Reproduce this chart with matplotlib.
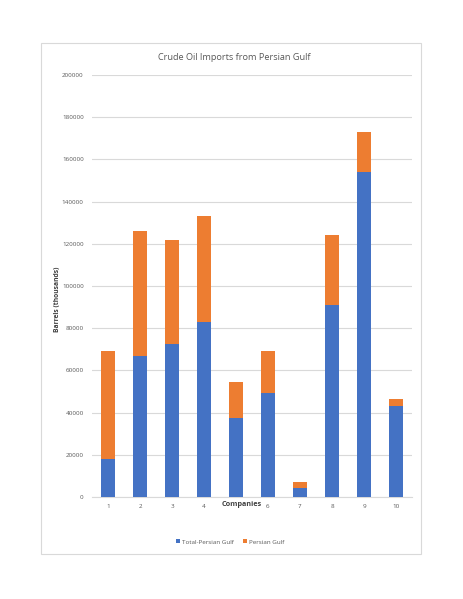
import matplotlib
matplotlib.use("Agg")
import matplotlib.pyplot as plt
from matplotlib.patches import Rectangle

plt.rcParams['font.family'] = ['Open Sans', 'DejaVu Sans']

companies = ['1', '2', '3', '4', '5', '6', '7', '8', '9', '10']
total_pg = [18000, 67000, 72500, 83000, 37500, 49500, 4500, 91000, 154000, 43000]
persian_gulf = [51000, 59000, 49500, 50000, 17000, 19500, 2500, 33000, 19000, 3500]

BLUE = '#4472C4'
ORANGE = '#ED7D31'
GRID = '#D9D9D9'
TXT = '#595959'

fig = plt.figure(figsize=(4.63, 5.99), dpi=100)
fig.patch.set_facecolor('white')

# chart frame
fig.add_artist(Rectangle((41 / 463, 1 - 554 / 599), 380 / 463, 511 / 599,
                         transform=fig.transFigure, fill=False,
                         edgecolor=GRID, linewidth=0.8))

ax = fig.add_axes([92 / 463, 1 - 497 / 599, 320 / 463, 422 / 599])
x = range(len(companies))
ax.bar(x, total_pg, width=0.44, color=BLUE, label='Total-Persian Gulf', zorder=3)
ax.bar(x, persian_gulf, width=0.44, bottom=total_pg, color=ORANGE,
       label='Persian Gulf', zorder=3)

ax.set_xlim(-0.5, len(companies) - 0.5)
ax.set_ylim(0, 200000)
ax.set_yticks(range(0, 200001, 20000))
ax.set_xticks(list(x))
ax.set_xticklabels(companies)
ax.tick_params(axis='both', length=0, labelsize=4.5, labelcolor=TXT, pad=6)
ax.tick_params(axis='x', pad=5)
ax.grid(axis='y', color=GRID, linewidth=0.8, zorder=0)
for s in ['top', 'right', 'left']:
    ax.spines[s].set_visible(False)
ax.spines['bottom'].set_color(GRID)
ax.spines['bottom'].set_linewidth(0.8)

# the axis title sits on top of tick "5" in the original, hiding it
ax.get_xticklabels()[4].set_visible(False)

fig.text(234 / 463, 1 - 58 / 599, 'Crude Oil Imports from Persian Gulf',
         fontsize=6.6, color=TXT, ha='center', va='center')
ax.yaxis.set_label_coords(58 / 463, 1 - 281 / 599, transform=fig.transFigure)
ax.set_ylabel('Barrels (thousands)', fontsize=4.9, fontweight='bold',
              color='#404040', va='center')

fig.text(242 / 463, 1 - 505 / 599, 'Companies', fontsize=5.2, fontweight='bold',
         color='#404040', ha='center', va='center')

fig.legend(loc='center', bbox_to_anchor=(230 / 463, 1 - 542 / 599), ncol=2,
           frameon=False, fontsize=4.5, handlelength=0.6, handleheight=0.6,
           handletextpad=0.3, columnspacing=1.5, labelcolor=TXT)

fig.savefig('out.png', dpi=100)
